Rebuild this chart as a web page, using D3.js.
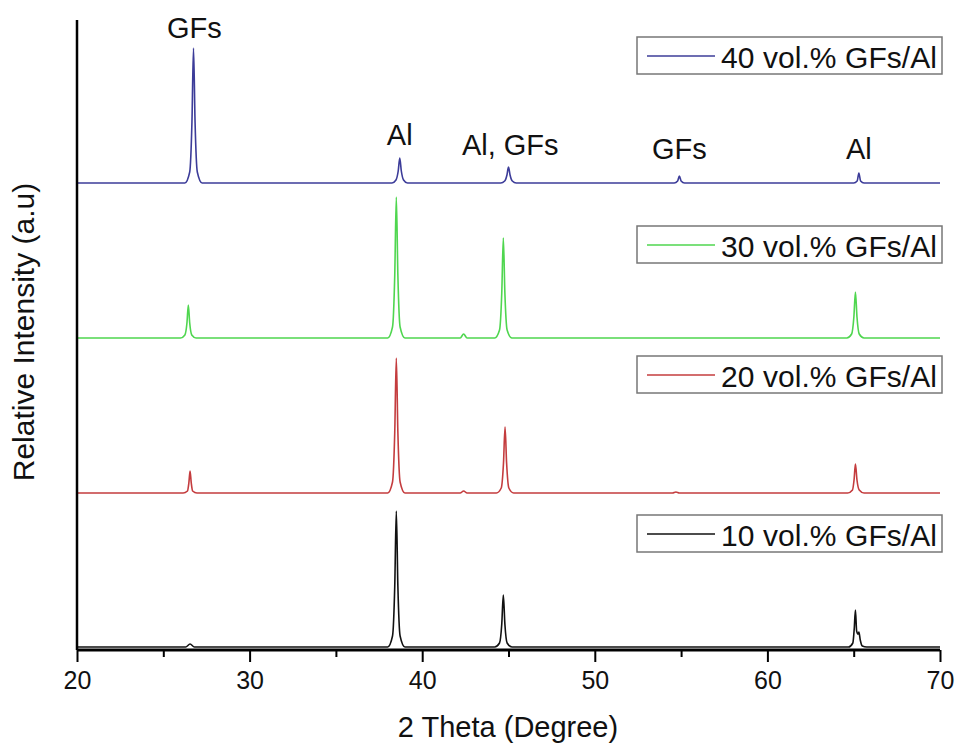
<!DOCTYPE html>
<html>
<head>
<meta charset="utf-8">
<script src="https://cdn.jsdelivr.net/npm/d3@7"></script>
<style>
  body { margin: 0; background: #fff; }
  svg text { font-family: "Liberation Sans", Arial, sans-serif; fill: #111; }
</style>
</head>
<body>
<div id="chart"></div>
<script>
// XRD patterns, [2theta, intensity a.u.]
const black10 = [[20,0],[26.3,0],[26.55,3],[26.8,0],
  [38.0,0],[38.28,11],[38.41,61],[38.5,136],[38.59,61],[38.72,11],[39.0,0],
  [44.2,0],[44.48,4],[44.61,23],[44.7,52],[44.79,23],[44.92,4],[45.2,0],
  [64.7,0],[64.95,4],[65.03,18],[65.1,37],[65.17,16],[65.25,13],[65.3,15],[65.38,7],[65.5,1],[65.75,0],[70,0]];

const red20 = [[20,0],[26.15,0],[26.4,2],[26.48,10],[26.55,22],[26.62,10],[26.7,2],[26.95,0],
  [38.0,0],[38.28,11],[38.41,61],[38.5,135],[38.59,61],[38.72,11],[39.0,0],
  [42.2,0],[42.4,2],[42.6,0],
  [44.3,0],[44.58,5],[44.71,30],[44.8,66],[44.89,30],[45.02,5],[45.3,0],
  [54.5,0],[54.7,1],[54.9,0],
  [64.65,0],[64.93,3],[65.02,13],[65.1,29],[65.19,13],[65.32,3],[65.6,0],[70,0]];

const green30 = [[20,0],[26.0,0],[26.25,3],[26.37,15],[26.45,33],[26.53,15],[26.65,3],[26.9,0],
  [38.0,0],[38.28,11],[38.41,63],[38.5,141],[38.59,63],[38.72,11],[39.0,0],
  [42.2,0],[42.4,4],[42.6,0],
  [44.2,0],[44.48,8],[44.61,45],[44.7,100],[44.79,45],[44.92,8],[45.2,0],
  [64.6,0],[64.88,4],[65.01,21],[65.1,46],[65.19,21],[65.32,4],[65.6,0],[70,0]];

const blue40 = [[20,0],[26.25,0],[26.53,11],[26.66,61],[26.75,135],[26.84,61],[26.97,11],[27.25,0],
  [38.25,0],[38.48,3],[38.61,12],[38.7,25],[38.79,12],[38.92,3],[39.15,0],
  [44.55,0],[44.78,2],[44.91,8],[45.0,16],[45.09,8],[45.22,2],[45.45,0],
  [54.6,0],[54.8,2],[54.9,7],[55.0,2],[55.2,0],
  [65.0,0],[65.2,2],[65.3,10],[65.4,2],[65.6,0],[70,0]];

const seriesNames = ["10 vol.% GFs/Al", "20 vol.% GFs/Al", "30 vol.% GFs/Al", "40 vol.% GFs/Al"];
const seriesData = [black10, red20, green30, blue40];
const seriesOffsets = [1, 155, 310, 465];  // vertical stacking, a.u.
const seriesColors = ["#111111", "#c43c3e", "#4fd64f", "#3c3c99"];

const peakLabels = ["GFs", "Al", "Al, GFs", "GFs", "Al"];
const peakLabelX = [26.8, 38.7, 45.1, 54.9, 65.3];
const peakLabelY = [610, 503, 493, 489, 489];

const xTicks = [20, 30, 40, 50, 60, 70];
const xMinor = [25, 35, 45, 55, 65];

const W = 955, H = 744;
const svg = d3.select("#chart").append("svg")
  .attr("width", W).attr("height", H);

const x = d3.scaleLinear().domain([20, 70]).range([77, 940]);
const y = d3.scaleLinear().domain([0, 630]).range([648, 18]);

// traces
const line = d3.line()
  .x(d => x(d[0]))
  .y(d => d[1])
  .curve(d3.curveMonotoneX);

seriesData.forEach((s, i) => {
  svg.append("path")
    .datum(s.map(d => [d[0], y(d[1] + seriesOffsets[i])]))
    .attr("fill", "none")
    .attr("stroke", seriesColors[i])
    .attr("stroke-width", 1.6)
    .attr("stroke-linejoin", "round")
    .attr("d", line);
});

// axes
const xAxis = svg.append("g")
  .attr("transform", "translate(0," + y(-2) + ")")
  .call(d3.axisBottom(x).tickValues(xTicks).tickSize(12).tickPadding(9).tickFormat(d3.format("d")));
xAxis.select(".domain").attr("stroke", "#000").attr("stroke-width", 3)
  .attr("d", "M" + x(20) + ",0H" + x(70));
xAxis.selectAll(".tick line").attr("stroke", "#000").attr("stroke-width", 2);
xAxis.selectAll(".tick text").attr("font-size", 25).attr("font-family", "Liberation Sans, Arial, sans-serif").attr("fill", "#111");

const xMinorAxis = svg.append("g")
  .attr("transform", "translate(0," + y(-2) + ")")
  .call(d3.axisBottom(x).tickValues(xMinor).tickSize(7).tickFormat(""));
xMinorAxis.select(".domain").remove();
xMinorAxis.selectAll(".tick line").attr("stroke", "#000").attr("stroke-width", 2);

const yAxis = svg.append("g")
  .attr("transform", "translate(" + x(20) + ",0)")
  .call(d3.axisLeft(y).tickValues([]).tickSizeOuter(0));
yAxis.select(".domain").attr("stroke", "#000").attr("stroke-width", 2.5)
  .attr("d", "M0," + y(628) + "V" + y(-2));

// axis titles
svg.append("text")
  .attr("x", 508).attr("y", 737)
  .attr("text-anchor", "middle")
  .attr("font-size", 29)
  .text("2 Theta (Degree)");

svg.append("text")
  .attr("transform", "translate(34,332) rotate(-90)")
  .attr("text-anchor", "middle")
  .attr("font-size", 30)
  .text("Relative Intensity (a.u)");

// peak labels
peakLabels.forEach((t, i) => {
  svg.append("text")
    .attr("x", x(peakLabelX[i]))
    .attr("y", y(peakLabelY[i]))
    .attr("text-anchor", "middle")
    .attr("font-size", 29)
    .text(t);
});

// legends, one per trace
const legendTop = [515, 356, 226, 37];
seriesNames.forEach((n, i) => {
  const g = svg.append("g").attr("transform", "translate(637," + legendTop[i] + ")");
  g.append("rect")
    .attr("width", 305).attr("height", 37)
    .attr("fill", "#fff")
    .attr("stroke", "#777").attr("stroke-width", 1.5);
  g.append("line")
    .attr("x1", 10).attr("x2", 78)
    .attr("y1", 19).attr("y2", 19)
    .attr("stroke", seriesColors[i]).attr("stroke-width", 1.6);
  g.append("text")
    .attr("x", 84).attr("y", 31)
    .attr("font-size", 30)
    .attr("textLength", 216)
    .text(n);
});
</script>
</body>
</html>
